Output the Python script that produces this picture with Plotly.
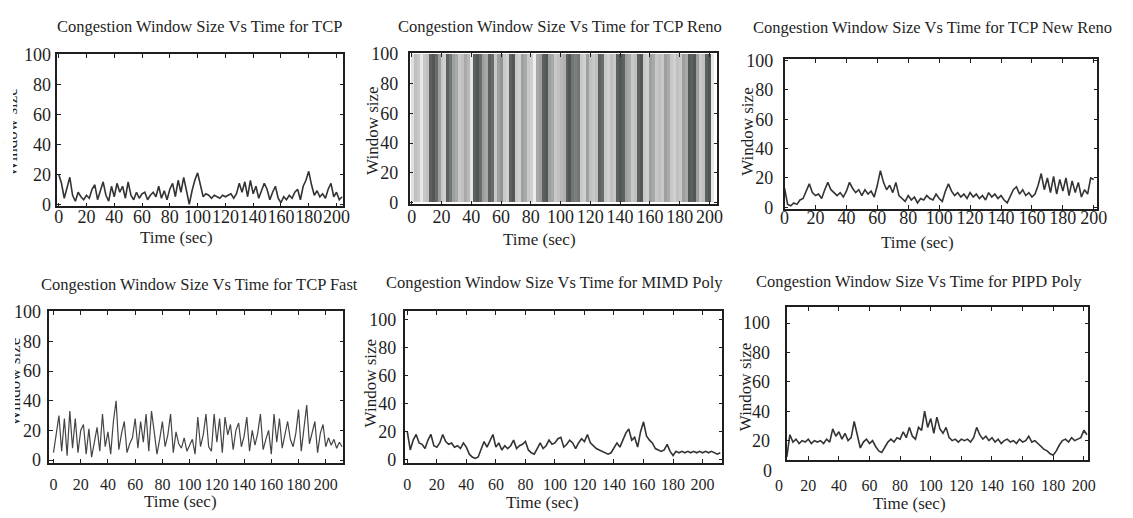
import plotly.graph_objects as go

W, H = 1133, 518
FONT = "Liberation Serif"
INK = "#1f1f1f"
LINE = "#333333"

# ---------------- data ----------------
TIME = [0, 2, 4, 6, 8, 10, 12, 14, 16, 18, 20, 22, 24, 26, 28, 30, 32, 34, 36, 38,
        40, 42, 44, 46, 48, 50, 52, 54, 56, 58, 60, 62, 64, 66, 68, 70, 72, 74, 76, 78,
        80, 82, 84, 86, 88, 90, 92, 94, 96, 98, 100, 102, 104, 106, 108, 110, 112, 114, 116, 118,
        120, 122, 124, 126, 128, 130, 132, 134, 136, 138, 140, 142, 144, 146, 148, 150, 152, 154, 156, 158,
        160, 162, 164, 166, 168, 170, 172, 174, 176, 178, 180, 182, 184, 186, 188, 190, 192, 194, 196, 198,
        200, 202, 204, 206, 208, 210, 212]

TICK_X = [0, 20, 40, 60, 80, 100, 120, 140, 160, 180, 200]
TICK_Y = [0, 20, 40, 60, 80, 100]

TITLES = ["Congestion Window Size Vs Time for TCP",
          "Congestion Window Size Vs Time for TCP Reno",
          "Congestion Window Size Vs Time for TCP New Reno",
          "Congestion Window Size Vs Time for TCP Fast",
          "Congestion Window Size Vs Time for MIMD Poly",
          "Congestion Window Size Vs Time for PIPD Poly"]
X_LABEL = "Time (sec)"
Y_LABEL = "Window size"

TCP = [20, 14, 4, 12, 18, 6, 2, 8, 5, 3,
       6, 4, 10, 13, 3, 9, 15, 6, 2, 12,
       5, 14, 8, 12, 4, 15, 6, 3, 8, 4,
       7, 8, 3, 6, 8, 5, 12, 4, 9, 3,
       10, 14, 5, 16, 8, 18, 10, 0, 9, 16,
       21, 13, 5, 7, 6, 4, 6, 5, 4, 6,
       5, 6, 7, 4, 7, 14, 8, 15, 5, 16,
       7, 12, 4, 9, 14, 10, 3, 8, 12, 4,
       1, 5, 3, 6, 4, 8, 10, 3, 12, 16,
       22, 13, 6, 9, 5, 7, 4, 10, 14, 5,
       8, 3, 5]

RENO_WINDOW = [100, 100, 100, 100, 100, 100, 100, 100, 100, 100, 100, 100, 100, 100, 100, 100, 100,
               100, 100, 100, 100, 100, 100, 100, 100, 100, 100, 100, 100, 100, 100, 100, 100, 100,
               100, 100, 100, 100, 100, 100, 100, 100, 100, 100, 100, 100, 100, 100, 100, 100, 100,
               100, 100, 100, 100, 100, 100, 100, 100, 100, 100, 100, 100, 100, 100, 100, 100, 100,
               100, 100, 100, 100, 100, 100, 100, 100, 100, 100, 100, 100, 100, 100, 100, 100, 100,
               100, 100, 100, 100, 100, 100, 100, 100, 100, 100, 100, 100, 100, 100, 100, 100, 100]
RENO_DENSITY = [0.15, 0.35, 0.3, 0.1, 0.3, 0.35, 0.85, 0.9, 0.8, 0.55,
                0.3, 0.25, 0.85, 0.75, 0.55, 0.5, 0.3, 0.35, 0.5, 0.4,
                0.1, 0.85, 0.9, 0.8, 0.55, 0.5, 0.85, 0.8, 0.3, 0.55,
                0.6, 0.3, 0.25, 0.85, 0.9, 0.3, 0.25, 0.55, 0.5, 0.3,
                0.25, 0.05, 0.5, 0.55, 0.85, 0.9, 0.55, 0.5, 0.3, 0.35,
                0.4, 0.45, 0.85, 0.9, 0.75, 0.7, 0.75, 0.3, 0.25, 0.55,
                0.35, 0.3, 0.35, 0.85, 0.8, 0.3, 0.25, 0.35, 0.3, 0.85,
                0.9, 0.85, 0.55, 0.5, 0.3, 0.35, 0.85, 0.9, 0.3, 0.25,
                0.55, 0.5, 0.3, 0.35, 0.3, 0.55, 0.5, 0.3, 0.25, 0.35,
                0.3, 0.55, 0.5, 0.9, 0.85, 0.9, 0.55, 0.3, 0.35, 0.85,
                0.9, 0.1]

NEWRENO = [13, 2, 1, 3, 2, 5, 6, 11, 16, 10,
           8, 9, 6, 12, 17, 12, 10, 8, 10, 7,
           11, 17, 13, 10, 12, 8, 12, 9, 11, 7,
           15, 25, 17, 12, 15, 10, 17, 8, 6, 4,
           8, 5, 7, 3, 6, 5, 8, 6, 5, 9,
           6, 4, 11, 16, 11, 8, 10, 7, 9, 6,
           10, 7, 9, 6, 8, 5, 10, 7, 9, 6,
           8, 5, 3, 8, 12, 14, 9, 12, 8, 10,
           7, 9, 15, 23, 12, 20, 10, 21, 9, 19,
           11, 20, 8, 18, 10, 17, 7, 12, 9, 20,
           19]

FAST = [5, 18, 30, 6, 28, 3, 33, 8, 28, 5,
        20, 24, 4, 21, 2, 12, 22, 6, 31, 9,
        19, 4, 26, 40, 7, 18, 26, 5, 11, 15,
        28, 8, 26, 12, 31, 6, 33, 19, 4, 14,
        26, 9, 17, 31, 5, 19, 11, 8, 15, 6,
        10, 14, 4, 29, 9, 17, 31, 9, 6, 31,
        12, 28, 5, 29, 17, 24, 7, 20, 25, 9,
        16, 29, 6, 20, 10, 18, 31, 7, 14, 20,
        4, 31, 12, 28, 8, 16, 26, 14, 9, 18,
        34, 6, 22, 37, 11, 19, 26, 5, 18, 24,
        9, 15, 10, 14, 8, 12, 9]

MIMD = [20, 7, 14, 18, 12, 11, 8, 14, 18, 10,
        9, 12, 18, 13, 11, 12, 9, 10, 8, 12,
        9, 4, 2, 1, 2, 7, 13, 9, 14, 18,
        9, 12, 7, 10, 8, 10, 14, 8, 10, 11,
        13, 7, 5, 4, 8, 12, 8, 10, 14, 11,
        12, 15, 16, 9, 11, 14, 12, 8, 12, 15,
        13, 18, 12, 10, 8, 7, 6, 5, 4, 5,
        9, 12, 9, 14, 19, 22, 14, 16, 9, 20,
        27, 17, 14, 12, 8, 7, 6, 7, 11, 6,
        3, 6, 5, 6, 5, 6, 5, 6, 5, 6,
        5, 6, 5, 6, 5, 4, 5]

PIPD = [9, 24, 19, 21, 18, 20, 19, 21, 18, 20,
        19, 20, 18, 21, 19, 28, 23, 26, 21, 25,
        20, 22, 33, 25, 15, 19, 21, 18, 20, 16,
        13, 12, 16, 19, 21, 19, 22, 21, 26, 22,
        29, 23, 21, 29, 27, 40, 29, 35, 25, 36,
        28, 25, 29, 22, 20, 21, 19, 21, 20, 21,
        19, 22, 29, 24, 21, 23, 20, 22, 19, 21,
        18, 20, 21, 19, 20, 18, 21, 19, 20, 23,
        19, 20, 18, 16, 14, 13, 11, 10, 13, 17,
        20, 21, 19, 22, 20, 21, 22, 27, 24]
PIPD_TIME = TIME[3:3 + len(PIPD)]   # series starts at t = 6 s


# ---------------- helpers ----------------
def fx(px):
    return px / W


def fy(py):
    return 1 - py / H


# pixel boxes (left, top, right, bottom), axis ranges, y-label standoff,
# x tick-label font size and the pixel row of the x tick-label axis
PANELS = [
    dict(box=(53, 47, 343, 204), xr=[-1, 205], yr=[-1.4, 100.2], ys=1, xf=18, lab=202),
    dict(box=(410, 46, 722, 202), xr=[-1.5, 205.4], yr=[-1.3, 100.4], ys=6, xf=18, lab=202),
    dict(box=(790, 52, 1107, 207), xr=[0, 202.3], yr=[-1.3, 100.9], ys=6, xf=18, lab=203),
    dict(box=(45, 312, 343, 469), xr=[-3, 213], yr=[-1.7, 100.6], ys=3, xf=16, lab=480),
    dict(box=(405, 312, 727, 469), xr=[-1.8, 213.4], yr=[-2, 106], ys=3, xf=16, lab=480),
    dict(box=(792, 308, 1098, 466), xr=[5.8, 203], yr=[7, 111], ys=11, xf=16, lab=481),
]

fig = go.Figure()

line_style = dict(color=LINE, width=1.6)
fig.add_trace(go.Scatter(x=TIME[:len(TCP)], y=TCP, mode="lines", line=line_style,
                         xaxis="x", yaxis="y"))
fig.add_trace(go.Bar(x=TIME[:len(RENO_WINDOW)], y=RENO_WINDOW, width=2,
                     marker=dict(color=RENO_DENSITY, cmin=0, cmax=1,
                                 colorscale=[[0, "#f6f6f6"], [0.5, "#a9a9a9"], [1, "#3b4141"]],
                                 line=dict(width=0)),
                     xaxis="x2", yaxis="y2"))
fig.add_trace(go.Scatter(x=TIME[:len(NEWRENO)], y=NEWRENO, mode="lines", line=line_style,
                         xaxis="x3", yaxis="y3"))
fig.add_trace(go.Scatter(x=TIME[:len(FAST)], y=FAST, mode="lines",
                         line=dict(color="#444444", width=1.2),
                         xaxis="x4", yaxis="y4"))
fig.add_trace(go.Scatter(x=TIME[:len(MIMD)], y=MIMD, mode="lines", line=line_style,
                         xaxis="x5", yaxis="y5"))
fig.add_trace(go.Scatter(x=PIPD_TIME, y=PIPD, mode="lines", line=line_style,
                         xaxis="x6", yaxis="y6"))

layout = dict(width=W, height=H, margin=dict(l=0, r=0, t=0, b=0),
              paper_bgcolor="white", plot_bgcolor="white", showlegend=False,
              bargap=0)

for i, p in enumerate(PANELS, start=1):
    l, t, r, b = p["box"]
    sfx = "" if i == 1 else str(i)
    common = dict(ticks="inside", ticklen=4, tickwidth=1, tickcolor=INK,
                  showline=True, linewidth=1.6, linecolor=INK, mirror="ticks",
                  showgrid=False, zeroline=False, tickangle=0, fixedrange=True,
                  tickmode="array")
    layout["xaxis" + sfx] = dict(domain=[fx(l), fx(r)], range=p["xr"], tickvals=TICK_X,
                                 anchor="y" + sfx, showticklabels=False, **common)
    layout["yaxis" + sfx] = dict(domain=[fy(b), fy(t)], range=p["yr"], tickvals=TICK_Y,
                                 anchor="x" + sfx, ticklabelstandoff=p["ys"],
                                 tickfont=dict(family=FONT, size=18, color=INK), **common)
    # label-only x axis, placed at the row where the scanned tick labels sit
    lab_axis = "xaxis" + str(6 + i)
    layout[lab_axis] = dict(
        domain=[fx(l), fx(r)], range=p["xr"], tickvals=TICK_X, tickmode="array",
        overlaying="x" + sfx, anchor="free", position=fy(p["lab"]), side="bottom",
        showline=False, ticks="", showgrid=False, zeroline=False, tickangle=0,
        fixedrange=True, tickfont=dict(family=FONT, size=p["xf"], color=INK))
    fig.add_trace(go.Scatter(x=[], y=[], mode="lines", xaxis="x" + str(6 + i),
                             yaxis="y" + sfx, hoverinfo="skip"))


def ann(text, x, y, size, angle=0, xanchor="center"):
    return dict(text=text, x=fx(x), y=fy(y), xref="paper", yref="paper",
                showarrow=False, textangle=angle, xanchor=xanchor, yanchor="middle",
                font=dict(family=FONT, size=size, color=INK))


anns = []
title_pos = [(197, 18), (562, 18), (940, 19), (197, 285), (557, 283), (926, 282)]
for txt, (x, y) in zip(TITLES, title_pos):
    anns.append(ann(txt, x, y, 16.5))

xt_pos = [(174, 236), (542, 238), (925, 241), (178, 509), (545, 510), (917, 511)]
for x, y in xt_pos:
    anns.append(ann(X_LABEL, x, y, 17))

yt_pos = [(7, 127), (373, 126), (753, 127), (9, 385), (370, 387), (750, 391)]
for x, y in yt_pos:
    anns.append(ann(Y_LABEL, x, y, 17, angle=-90))

# clipped left edge of the scanned figure (y-labels of the left column cut off)
for y, w in [(127, 8), (385, 10)]:
    anns.append(dict(text=" ", x=0, y=fy(y), xref="paper", yref="paper", showarrow=False,
                     xanchor="left", yanchor="middle", width=w, height=150,
                     bgcolor="white", borderpad=0, borderwidth=0))

# zero labels of the PIPD panel, printed outside its plotting range
anns.append(ann("0", 779, 478, 18, xanchor="right"))
anns.append(ann("0", 784, 493, 16))

layout["annotations"] = anns
fig.update_layout(**layout)
fig.write_html("out.html")
